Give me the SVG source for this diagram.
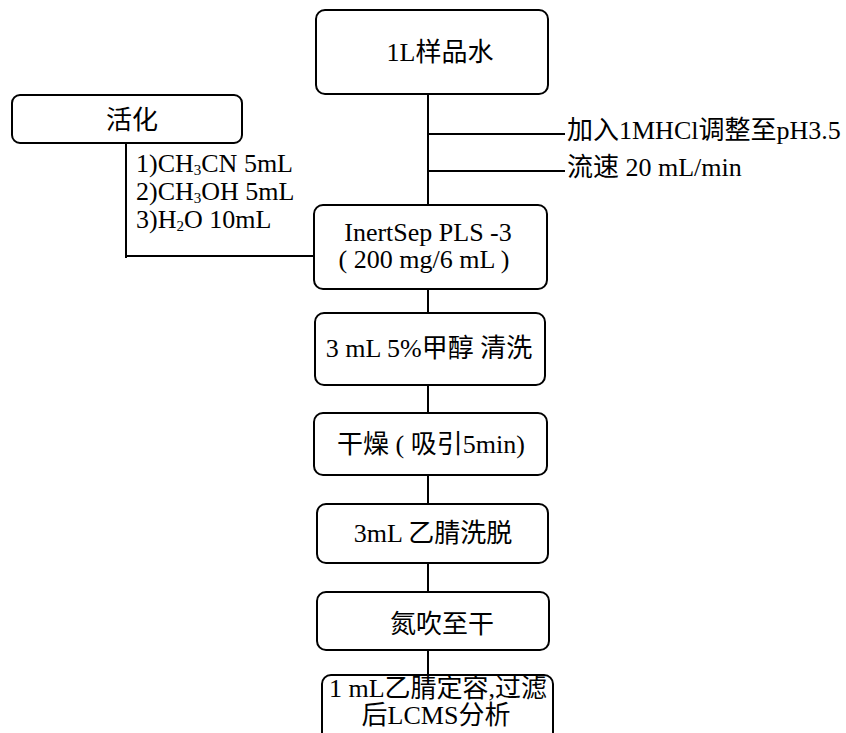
<svg xmlns="http://www.w3.org/2000/svg" width="846" height="733" viewBox="0 0 846 733">
<style>
.box{fill:#fff;stroke:#000;stroke-width:2}
.ln{stroke:#000;stroke-width:2;fill:none}
text{font-family:"Liberation Serif","Noto Sans CJK SC",serif;font-size:26px;fill:#000}
.c{text-anchor:middle}
.sub{font-size:15px}
</style>
<rect width="846" height="733" fill="#fff"/>
<g id="connectors">
<path class="ln" d="M428 94V205M428 134H565M428 171H565M428 289V313M428 385V413M428 475V504M428 563V592M428 650V675"/>
<path class="ln" d="M126 143V258M126 256H314"/>
</g>
<g id="n1"><rect class="box" x="316" y="10" width="232" height="84" rx="9"/><text class="c" x="440" y="61">1L样品水</text></g>
<g id="act"><rect class="box" x="12" y="95" width="230" height="48" rx="8"/><text class="c" x="132" y="129">活化</text></g>
<g id="actlist">
<text x="136" y="172">1)CH<tspan class="sub" dy="3">3</tspan><tspan dy="-3">CN 5mL</tspan></text>
<text x="136" y="200">2)CH<tspan class="sub" dy="3">3</tspan><tspan dy="-3">OH 5mL</tspan></text>
<text x="136" y="228">3)H<tspan class="sub" dy="3">2</tspan><tspan dy="-3">O 10mL</tspan></text>
</g>
<g id="cond">
<text x="567" y="139">加入1MHCl调整至pH3.5</text>
<text x="567" y="176">流速 20 mL/min</text>
</g>
<g id="n2"><rect class="box" x="314" y="205" width="233" height="84" rx="9"/><text class="c" x="428" y="241">InertSep PLS -3</text><text class="c" x="424" y="268">( 200 mg/6 mL )</text></g>
<g id="n3"><rect class="box" x="315" y="313" width="230" height="72" rx="9"/><text class="c" x="429" y="357">3 mL 5%甲醇 清洗</text></g>
<g id="n4"><rect class="box" x="314" y="413" width="233" height="62" rx="9"/><text class="c" x="431" y="453">干燥 ( 吸引5min)</text></g>
<g id="n5"><rect class="box" x="317" y="504" width="231" height="59" rx="9"/><text class="c" x="433" y="542">3mL 乙腈洗脱</text></g>
<g id="n6"><rect class="box" x="317" y="592" width="232" height="58" rx="9"/><text class="c" x="442" y="633">氮吹至干</text></g>
<g id="n7"><rect class="box" x="322" y="675" width="231" height="72" rx="9"/><text class="c" x="438" y="697">1 mL乙腈定容,过滤</text><text class="c" x="436" y="724">后LCMS分析</text></g>
</svg>
